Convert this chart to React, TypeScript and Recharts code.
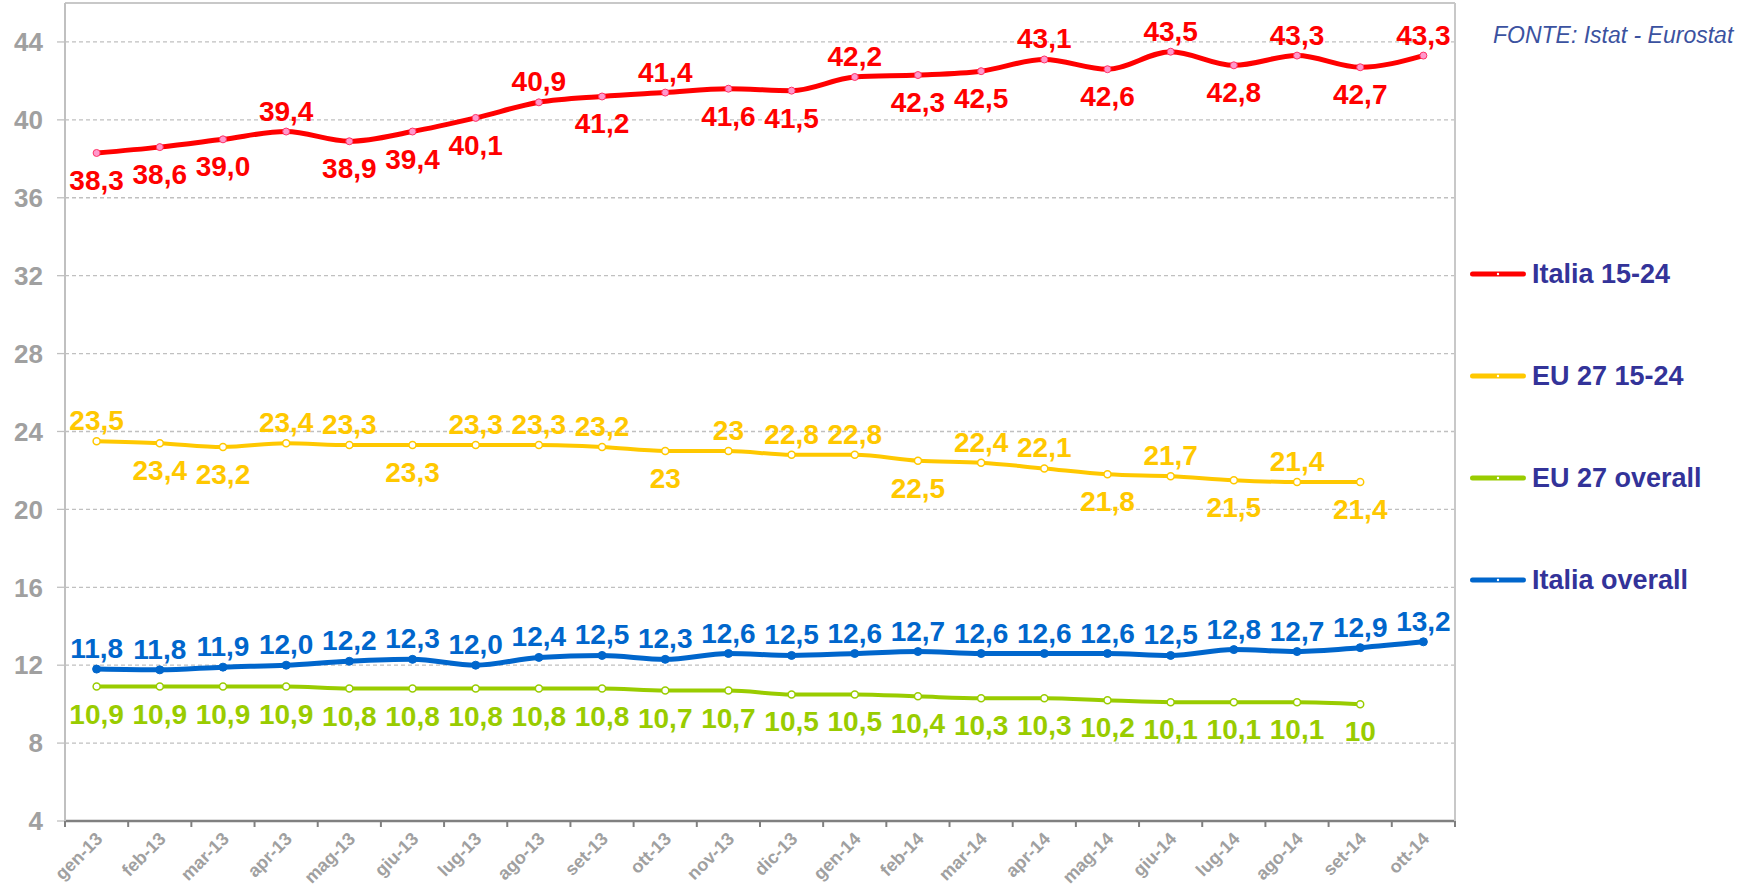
import React from "react";
import {
  LineChart, Line, XAxis, YAxis, CartesianGrid, Legend, LabelList,
} from "recharts";

const FONT = "'Liberation Sans', Arial, sans-serif";

const months = [
  "gen-13", "feb-13", "mar-13", "apr-13", "mag-13", "giu-13", "lug-13", "ago-13",
  "set-13", "ott-13", "nov-13", "dic-13", "gen-14", "feb-14", "mar-14", "apr-14",
  "mag-14", "giu-14", "lug-14", "ago-14", "set-14", "ott-14",
];

const italia1524 = [38.3, 38.6, 39.0, 39.4, 38.9, 39.4, 40.1, 40.9, 41.2, 41.4, 41.6, 41.5, 42.2, 42.3, 42.5, 43.1, 42.6, 43.5, 42.8, 43.3, 42.7, 43.3];
const eu1524 = [23.5, 23.4, 23.2, 23.4, 23.3, 23.3, 23.3, 23.3, 23.2, 23, 23, 22.8, 22.8, 22.5, 22.4, 22.1, 21.8, 21.7, 21.5, 21.4, 21.4];
const euOverall = [10.9, 10.9, 10.9, 10.9, 10.8, 10.8, 10.8, 10.8, 10.8, 10.7, 10.7, 10.5, 10.5, 10.4, 10.3, 10.3, 10.2, 10.1, 10.1, 10.1, 10];
const italiaOverall = [11.8, 11.76, 11.9, 12.0, 12.2, 12.3, 12.0, 12.4, 12.5, 12.3, 12.6, 12.5, 12.6, 12.7, 12.6, 12.6, 12.6, 12.5, 12.8, 12.7, 12.9, 13.2];

const seriesNames = ["Italia 15-24", "EU 27 15-24", "EU 27 overall", "Italia overall"];
const yTicks = [4, 8, 12, 16, 20, 24, 28, 32, 36, 40, 44];

// label side: a = above the point, b = below
const redSide = ["b", "b", "b", "a", "b", "b", "b", "a", "b", "a", "b", "b", "a", "b", "b", "a", "b", "a", "b", "a", "b", "a"];
const yellowSide = ["a", "b", "b", "a", "a", "b", "a", "a", "a", "b", "a", "a", "a", "b", "a", "a", "b", "a", "b", "a", "b"];

const data = months.map((m, i) => ({
  month: m,
  red: italia1524[i],
  yellow: eu1524[i],
  green: euOverall[i],
  blue: italiaOverall[i],
}));

const W = 1747;
const H = 892;
const PLOT_LEFT = 65;
const PLOT_RIGHT = 1456;
const band = (PLOT_RIGHT - PLOT_LEFT) / months.length;

const fixed1 = (v: number) => v.toFixed(1).replace(".", ",");
const general = (v: number) => String(v).replace(".", ",");

function makeLabel(color: string, sides: string[] | string, fmt: (v: number) => string) {
  return (props: any) => {
    const x = props.x ?? props.viewBox?.x;
    const y = props.y ?? props.viewBox?.y;
    const v = props.value;
    if (v == null || x == null || y == null) return null;
    const side = typeof sides === "string" ? sides : sides[props.index];
    const ty = side === "a" ? y - 11 : y + 37;
    return (
      <text x={x} y={ty} textAnchor="middle" fill={color} fontSize={28} fontWeight="bold" fontFamily={FONT}>
        {fmt(v)}
      </text>
    );
  };
}

function MonthTick({ x, y, payload, index }: any) {
  const half = band / 2;
  const tx = x + 7;
  const ty = y + 19;
  return (
    <g>
      <line x1={x - half} x2={x - half} y1={y} y2={y + 6} stroke="#808080" strokeWidth={2} />
      {index === months.length - 1 && (
        <line x1={x + half} x2={x + half} y1={y} y2={y + 6} stroke="#808080" strokeWidth={2} />
      )}
      <text x={tx} y={ty} transform={`rotate(-45, ${tx}, ${ty})`} textAnchor="end"
        fill="#A0A0A0" fontSize={18} fontWeight="bold" fontFamily={FONT}>
        {payload.value}
      </text>
    </g>
  );
}

function renderLegend(props: any) {
  return (
    <div style={{ display: "flex", flexDirection: "column" }}>
      {props.payload.map((p: any) => (
        <div key={p.value} style={{ height: 102, display: "flex", alignItems: "center" }}>
          <svg width={60} height={10}>
            <line x1={3.5} x2={54.5} y1={5} y2={5} stroke={p.color} strokeWidth={5} strokeLinecap="round" />
            <circle cx={29} cy={5} r={1.2} fill="#fff" />
          </svg>
          <span style={{ marginLeft: 3, color: "#333399", fontWeight: "bold", fontSize: 27, fontFamily: FONT, lineHeight: "30px" }}>
            {p.value}
          </span>
        </div>
      ))}
    </div>
  );
}

export default function App() {
  return (
    <div style={{ position: "absolute", left: 0, top: 0, width: W, height: H, background: "#fff", fontFamily: FONT }}>
      <LineChart width={W} height={H} data={data} margin={{ top: 2, right: W - PLOT_RIGHT, left: 0, bottom: 0 }}>
        <CartesianGrid vertical={false} stroke="#C0C0C0" strokeDasharray="4 3" strokeWidth={1.3} />
        <XAxis dataKey="month" height={H - 819 - 2} tickLine={false} tickSize={0} tickMargin={0}
          padding={{ left: band / 2, right: band / 2 }}
          axisLine={{ stroke: "#808080", strokeWidth: 2.5 }} tick={<MonthTick />} interval={0} />
        <XAxis xAxisId="top" dataKey="month" orientation="top" height={1} tick={false} tickLine={false}
          padding={{ left: band / 2, right: band / 2 }}
          axisLine={{ stroke: "#C8C8C8", strokeWidth: 2 }} />
        <YAxis domain={[4, 46]} ticks={yTicks} width={PLOT_LEFT} tickSize={8} tickMargin={14}
          interval={0} allowDataOverflow
          axisLine={{ stroke: "#C0C0C0", strokeWidth: 2 }} tickLine={{ stroke: "#C0C0C0", strokeWidth: 1.3 }}
          tick={{ fill: "#A0A0A0", fontSize: 26, fontWeight: "bold", fontFamily: FONT }} />
        <YAxis yAxisId="r" orientation="right" domain={[4, 46]} width={1} tick={false} tickLine={false}
          axisLine={{ stroke: "#C8C8C8", strokeWidth: 2 }} />
        <Legend layout="horizontal" verticalAlign="middle" content={renderLegend}
          itemSorter={(item: any) => seriesNames.indexOf(item.value)}
          wrapperStyle={{ left: 1469, top: 223, width: 278 }} />

        <Line type="monotone" dataKey="red" name={seriesNames[0]} stroke="#FF0000" strokeWidth={5}
          isAnimationActive={false}
          dot={{ r: 3.5, fill: "#FF99CC", stroke: "#FF3366", strokeWidth: 1 }} activeDot={false}>
          <LabelList dataKey="red" content={makeLabel("#FF0000", redSide, fixed1)} />
        </Line>
        <Line type="monotone" dataKey="yellow" name={seriesNames[1]} stroke="#FFC800" strokeWidth={4}
          isAnimationActive={false}
          dot={{ r: 3.5, fill: "#FFFFFF", stroke: "#FFC800", strokeWidth: 1.5 }} activeDot={false}>
          <LabelList dataKey="yellow" content={makeLabel("#FFC800", yellowSide, general)} />
        </Line>
        <Line type="monotone" dataKey="green" name={seriesNames[2]} stroke="#99CC00" strokeWidth={4}
          isAnimationActive={false}
          dot={{ r: 3.5, fill: "#FFFFFF", stroke: "#99CC00", strokeWidth: 1.5 }} activeDot={false}>
          <LabelList dataKey="green" content={makeLabel("#99CC00", "b", general)} />
        </Line>
        <Line type="monotone" dataKey="blue" name={seriesNames[3]} stroke="#0066CC" strokeWidth={5}
          isAnimationActive={false}
          dot={{ r: 4, fill: "#0066CC", stroke: "#0066CC", strokeWidth: 1 }} activeDot={false}>
          <LabelList dataKey="blue" content={makeLabel("#0066CC", "a", fixed1)} />
        </Line>
      </LineChart>
      <div style={{ position: "absolute", left: 1493, top: 24, fontSize: 23, lineHeight: "23px", fontStyle: "italic", color: "#3B52A0", whiteSpace: "nowrap" }}>
        FONTE: Istat - Eurostat
      </div>
    </div>
  );
}
